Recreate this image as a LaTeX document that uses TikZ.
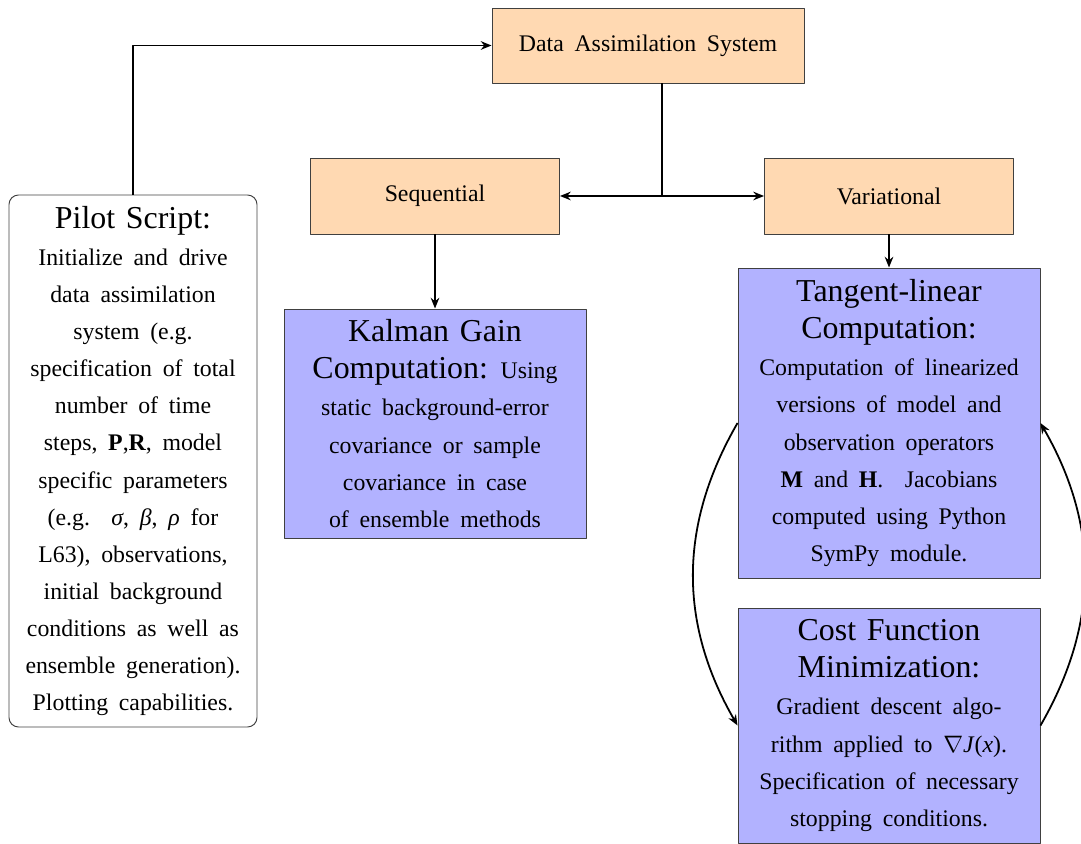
\documentclass[tikz,border=0pt]{standalone}
\usepackage{fontspec}
\setmainfont{Liberation Serif}
\usetikzlibrary{calc,arrows.meta}
\newcommand{\boxfont}{\fontsize{10}{15.6}\selectfont\spaceskip=0.45em plus 0.1em}
\newcommand{\hd}[1]{{\fontsize{13.4}{15.6}\selectfont #1}}
\begin{document}
\begin{tikzpicture}[x=0.42pt, y=-0.42pt, >={Stealth[length=4.5pt,width=3.6pt]}, line join=round,
	box/.style={draw=black!75, thin, align=center, inner sep=0pt, font=\boxfont},
	topbox/.style={box, fill=orange!30},
	compbox/.style={box, fill=blue!30, minimum width=302*0.42pt},
	pilotbox/.style={box, rounded corners=4pt, minimum width=248*0.42pt, minimum height=532*0.42pt},
	link/.style={line width=0.75pt}]
	\useasboundingbox (0,0) rectangle (1081,844);
	% top level
	\node[topbox, minimum width=312*0.42pt, minimum height=75*0.42pt] (das) at (648,45.5) {Data Assimilation System};
	\node[topbox, minimum width=249*0.42pt, minimum height=76*0.42pt] (seq) at (435,196) {Sequential};
	\node[topbox, minimum width=249*0.42pt, minimum height=76*0.42pt] (var) at (889,196) {Variational};
	% computation boxes
	\node[compbox, minimum height=229*0.42pt] (kal) at (435,423.5) {\hd{Kalman Gain}\\ \hd{Computation:} Using\\ static background-error\\ covariance or sample\\ covariance in case\\ of ensemble methods};
	\node[compbox, minimum height=310*0.42pt] (tan) at (889,423) {\hd{Tangent-linear}\\ \hd{Computation:}\\ Computation of linearized\\ versions of model and\\ observation operators\\ \textbf{M} and \textbf{H}.\ \ Jacobians\\ computed using Python\\ SymPy module.};
	\node[compbox, minimum height=235*0.42pt] (cost) at (889,725.5) {\hd{Cost Function}\\ \hd{Minimization:}\\ Gradient descent algo-\\ rithm applied to $\nabla$\textit{J}(\textit{x}).\\ Specification of necessary\\ stopping conditions.};
	% pilot script
	\node[pilotbox] (pilot) at (133,461) {\hd{Pilot Script:}\\ Initialize and drive\\ data assimilation\\ system (e.g.\\ specification of total\\ number of time\\ steps, \textbf{P},\textbf{R}, model\\ specific parameters\\ (e.g.\ \ \textit{σ}, \textit{β}, \textit{ρ}\ for\\ L63), observations,\\ initial background\\ conditions as well as\\ ensemble generation).\\ Plotting capabilities.};
	% connectors
	\coordinate (split) at ($(seq.east)!0.5!(var.west)$);
	\draw[link, ->] (pilot.north) |- (das.west);
	\draw[link] (das.south -| split) -- (split);
	\draw[link, ->] (split) -- (seq.east);
	\draw[link, ->] (split) -- (var.west);
	\draw[link, ->] (seq.south) -- (kal.north);
	\draw[link, ->] (var.south) -- (tan.north);
	\draw[link, ->] (tan.west) to[bend right=30] (cost.west);
	\draw[link, ->] (cost.east) to[bend right=30] (tan.east);
\end{tikzpicture}
\end{document}
